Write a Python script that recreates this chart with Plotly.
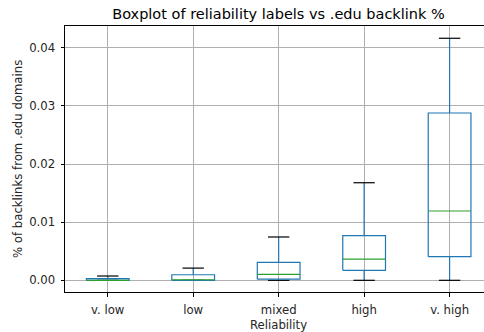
import plotly.graph_objects as go

categories = ["v. low", "low", "mixed", "high", "v. high"]
lower_whisker = [0.0, 0.0, 0.0, 0.0, 0.0]
q1 = [0.0, 0.0, 0.0002, 0.00172, 0.00406]
median = [0.0, 0.0001, 0.00103, 0.00366, 0.01192]
q3 = [0.00028, 0.00096, 0.0031, 0.00767, 0.02877]
upper_whisker = [0.00074, 0.0021, 0.00745, 0.01678, 0.04162]

BLUE = "#1f77b4"
GREEN = "#2ca02c"
BOX_W = 0.5
CAP_W = 0.25

fig = go.Figure()
positions = list(range(1, len(categories) + 1))


def add_line(xs, ys, color):
    fig.add_trace(go.Scatter(x=xs, y=ys, mode="lines",
                             line=dict(color=color, width=1.2),
                             hoverinfo="skip", showlegend=False))


for p, lw, a, m, b, uw in zip(positions, lower_whisker, q1, median, q3, upper_whisker):
    h = BOX_W / 2
    c = CAP_W / 2
    add_line([p, p], [lw, a], BLUE)
    add_line([p, p], [b, uw], BLUE)
    add_line([p - c, p + c], [lw, lw], "black")
    add_line([p - c, p + c], [uw, uw], "black")
    add_line([p - h, p + h, p + h, p - h, p - h], [a, a, b, b, a], BLUE)
    add_line([p - h, p + h], [m, m], GREEN)

FONT = "DejaVu Sans"
L, R, T, B = 65, 0, 26, 40
PW, PH = 484 - L - R, 332 - T - B
TXT = "#262626"
FS = 11.7

fig.update_layout(
    width=484, height=332,
    margin=dict(l=L, r=R, t=T, b=B, autoexpand=False),
    paper_bgcolor="white", plot_bgcolor="white",
    font=dict(family=FONT, size=FS, color=TXT),
    title=dict(text="Boxplot of reliability labels vs .edu backlink %",
               x=(65 + 492) / 2 / 484, xanchor="center",
               y=1 - 14 / 332, yanchor="middle", yref="container",
               font=dict(family=FONT, size=14.5, color="black")),
    showlegend=False,
    annotations=[
        dict(text="Reliability", xref="paper", yref="paper",
             x=(278.5 - L) / PW, y=(292 - 325) / PH, xanchor="center", yanchor="middle",
             showarrow=False, font=dict(family=FONT, size=FS, color=TXT)),
        dict(text="% of backlinks from .edu domains", xref="paper", yref="paper",
             x=(18 - L) / PW, y=(292 - 159) / PH, xanchor="center", yanchor="middle",
             textangle=-90, showarrow=False, font=dict(family=FONT, size=FS, color=TXT)),
    ],
)
fig.update_xaxes(
    range=[0.5, 5.5 - (492.3 - 484) / 85.25],
    tickmode="array", tickvals=positions, ticktext=categories,
    showgrid=True, gridcolor="#b0b0b0", gridwidth=0.8,
    showline=True, linecolor="black", linewidth=1, mirror=True,
    ticks="outside", ticklen=3.5, tickcolor="black", tickwidth=0.8,
    ticklabelstandoff=3,
    zeroline=False, automargin=False,
)
fig.update_yaxes(
    range=[-0.00201, 0.04373],
    tickmode="array", tickvals=[0, 0.01, 0.02, 0.03, 0.04],
    ticktext=["0.00", "0.01", "0.02", "0.03", "0.04"],
    showgrid=True, gridcolor="#b0b0b0", gridwidth=0.8,
    showline=True, linecolor="black", linewidth=1, mirror=False,
    ticks="outside", ticklen=3.5, tickcolor="black", tickwidth=0.8,
    ticklabelstandoff=3,
    zeroline=False, automargin=False,
)

fig.write_html("out.html", config={"displayModeBar": False},
               post_script="document.body.style.margin='0';document.body.style.padding='0';")
